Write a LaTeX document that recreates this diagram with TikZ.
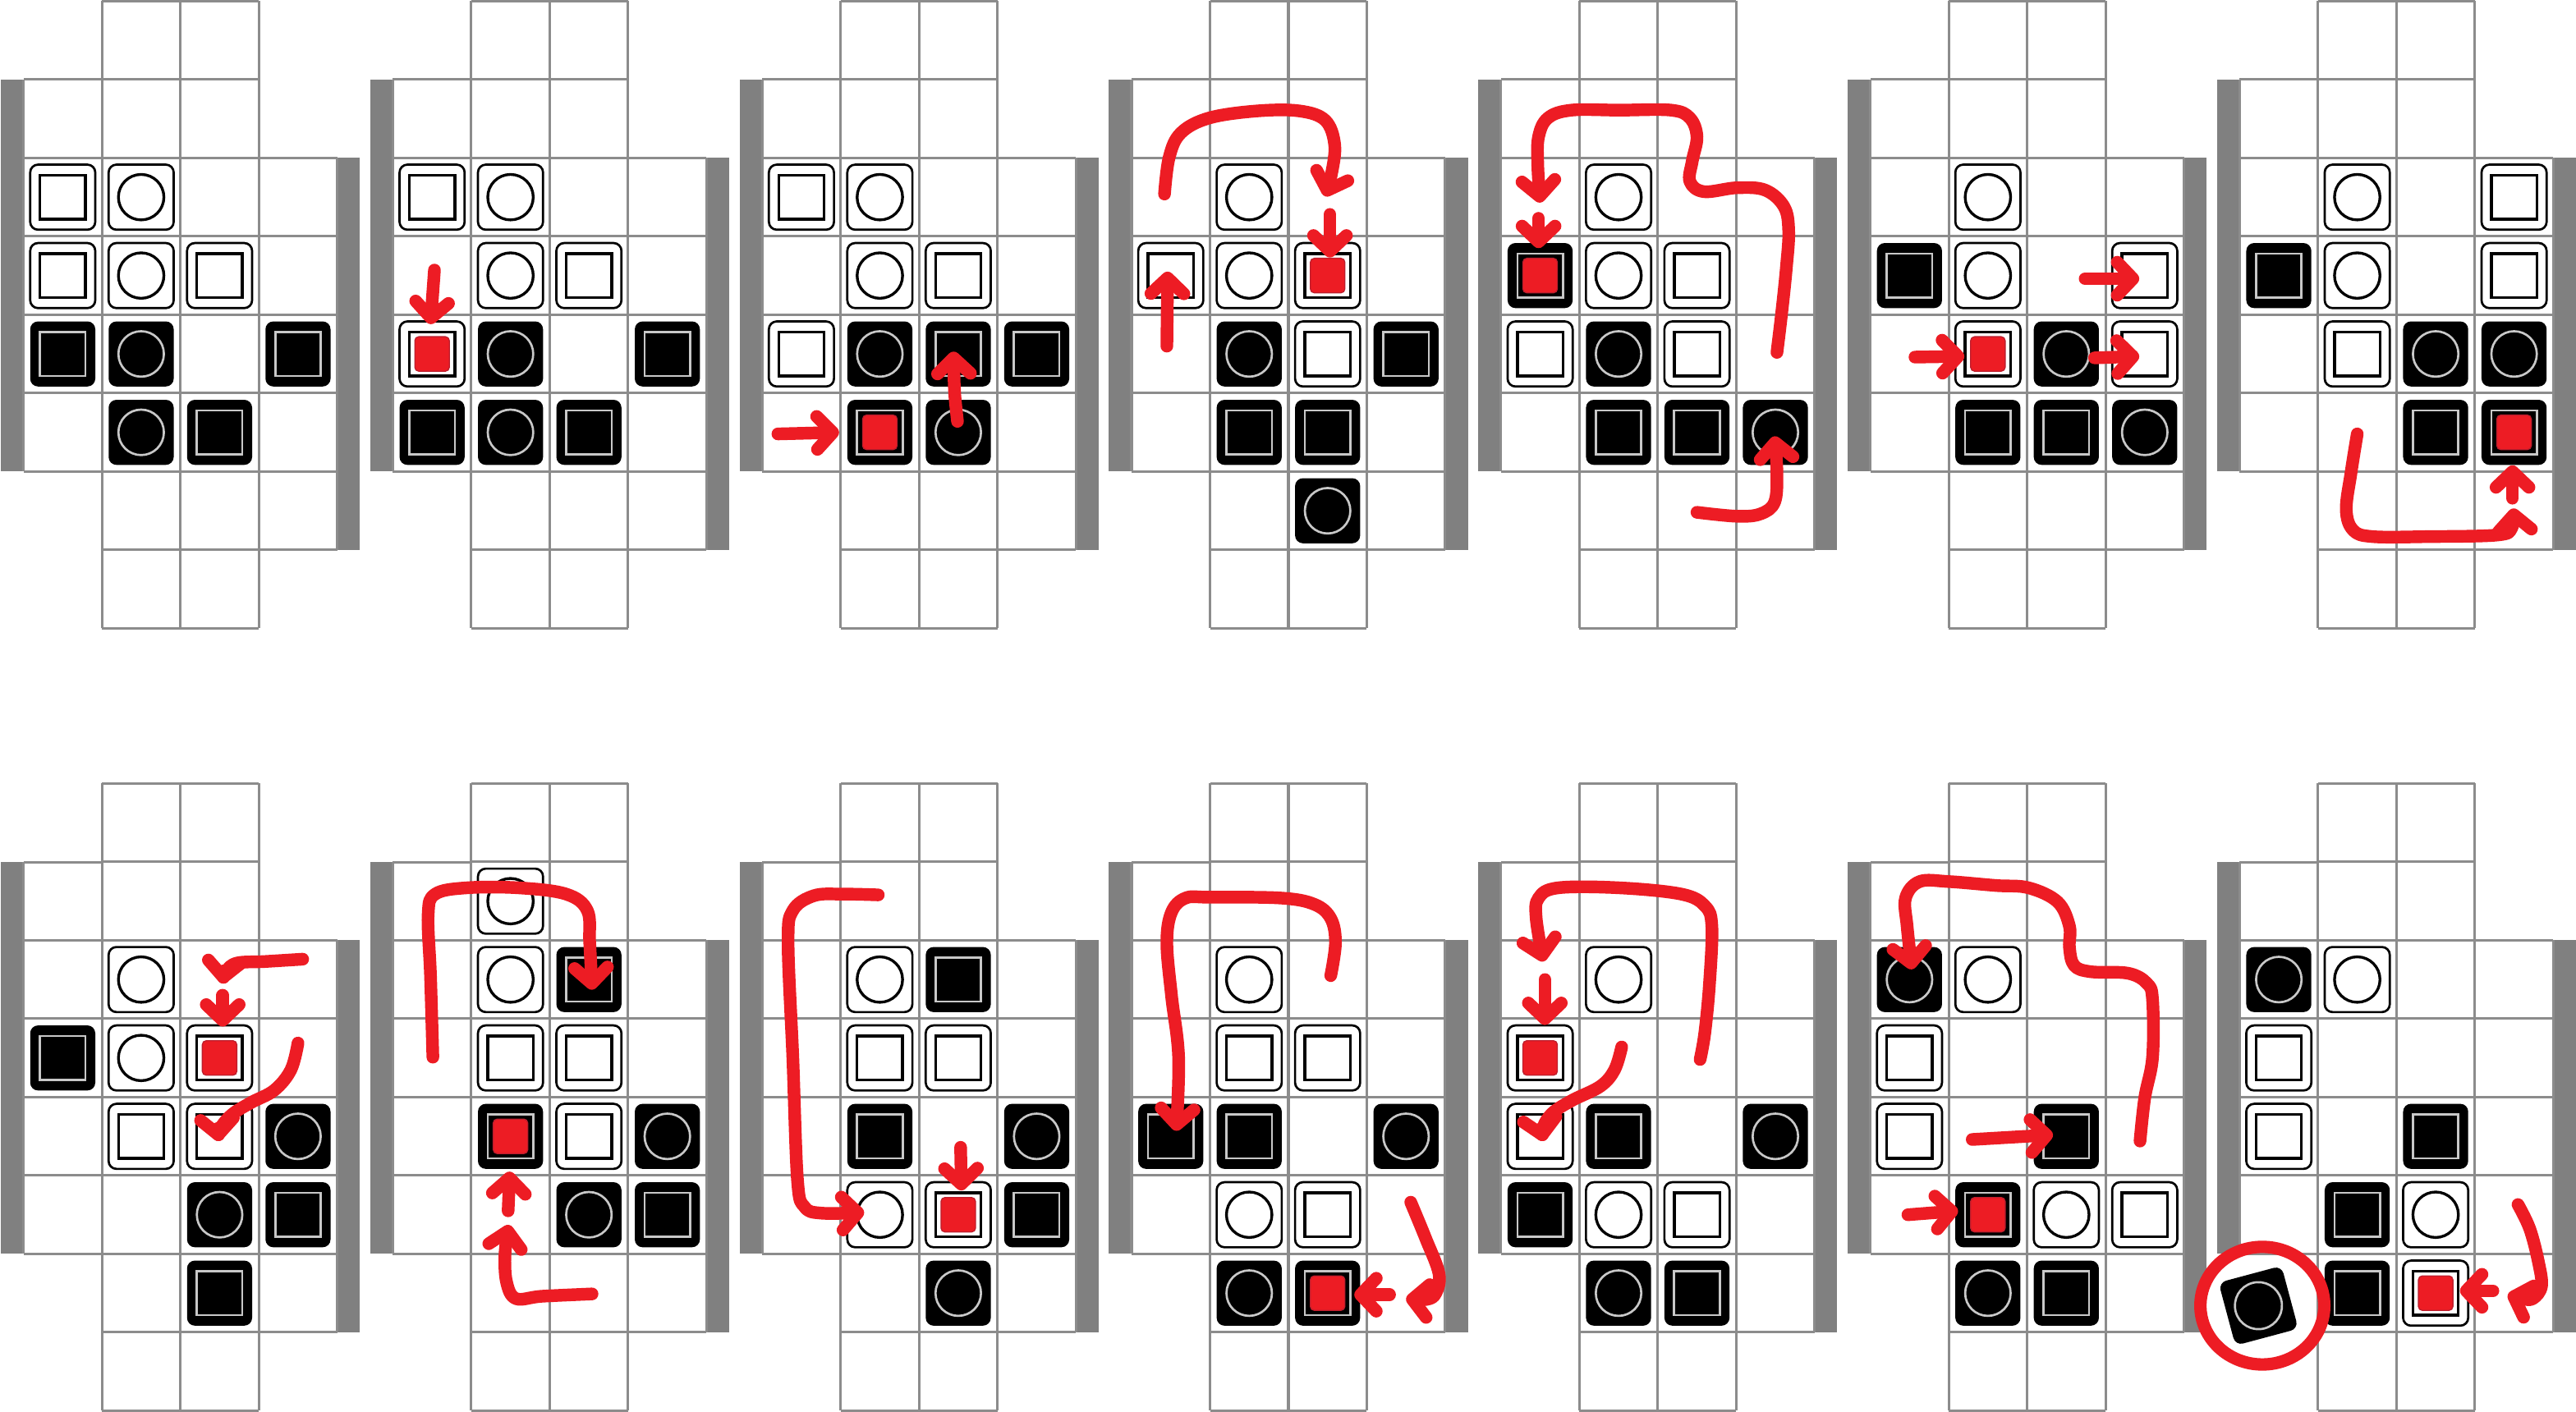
\documentclass[tikz,border=0pt]{standalone}
\usepackage{tikz}
\usetikzlibrary{arrows.meta}
\definecolor{bargray}{RGB}{128,128,128}
\definecolor{linegray}{RGB}{140,140,140}
\definecolor{markred}{RGB}{237,28,36}
\definecolor{darkred}{RGB}{190,30,45}
\definecolor{lightmark}{RGB}{200,200,200}
\tikzset{
  gridline/.style={draw=linegray, line width=0.9pt},
  sidebar/.style={fill=bargray},
  whitetile/.style={draw=black, fill=white, line width=0.8pt, rounded corners=0.1cm},
  blacktile/.style={fill=black, rounded corners=0.1cm},
  whitemark/.style={draw=black, line width=1pt},
  blackmark/.style={draw=lightmark, line width=0.8pt},
  redmark/.style={fill=markred, draw=darkred, line width=0.4pt, rounded corners=0.05cm},
  redarrow/.style={draw=markred, line width=4.6pt, line cap=round, line join=round, -{Straight Barb[round, length=2mm, width=4.2mm]}},
  redring/.style={draw=markred, line width=4.5pt}
}
\newcommand{\board}{%
  \fill[sidebar] (-0.29,-6) rectangle (0,-1);
  \fill[sidebar] (4,-7) rectangle (4.29,-2);
  \draw[gridline] (1,-8) grid (3,0);
  \draw[gridline] (0,-6) grid (1,-1);
  \draw[gridline] (3,-7) grid (4,-2);}
\newcommand{\wsq}[2]{%
  \draw[whitetile] (#1+0.085,-#2-0.085) rectangle ++(0.83,-0.83);
  \draw[whitemark] (#1+0.21,-#2-0.22) rectangle ++(0.58,-0.56);}
\newcommand{\wci}[2]{%
  \draw[whitetile] (#1+0.085,-#2-0.085) rectangle ++(0.83,-0.83);
  \draw[whitemark] (#1+0.5,-#2-0.5) circle (0.29);}
\newcommand{\bsq}[2]{%
  \fill[blacktile] (#1+0.085,-#2-0.085) rectangle ++(0.83,-0.83);
  \draw[blackmark] (#1+0.21,-#2-0.22) rectangle ++(0.58,-0.56);}
\newcommand{\bci}[2]{%
  \fill[blacktile] (#1+0.085,-#2-0.085) rectangle ++(0.83,-0.83);
  \draw[blackmark] (#1+0.5,-#2-0.5) circle (0.29);}
\newcommand{\rmark}[2]{%
  \draw[redmark] (#1+0.28,-#2-0.28) rectangle ++(0.44,-0.44);}

\begin{document}
\begin{tikzpicture}
  \fill[white] (0,0) rectangle (32.85,-18.01);
  \useasboundingbox (0,0) rectangle (32.85,-18.01);

  \begin{scope}[shift={(0.30,-0.015)}]
    \board
    \wsq{0}{2} \wci{1}{2}
    \wsq{0}{3} \wci{1}{3} \wsq{2}{3}
    \bsq{0}{4} \bci{1}{4} \bsq{3}{4}
    \bci{1}{5} \bsq{2}{5}
  \end{scope}

  \begin{scope}[shift={(5.01,-0.015)}]
    \board
    \wsq{0}{2} \wci{1}{2}
    \wci{1}{3} \wsq{2}{3}
    \wsq{0}{4} \rmark{0}{4} \bci{1}{4} \bsq{3}{4}
    \bsq{0}{5} \bci{1}{5} \bsq{2}{5}
    \draw[redarrow] (0.53,-3.43) -- (0.48,-4.12);
  \end{scope}

  \begin{scope}[shift={(9.72,-0.015)}]
    \board
    \wsq{0}{2} \wci{1}{2}
    \wci{1}{3} \wsq{2}{3}
    \wsq{0}{4} \bci{1}{4} \bsq{2}{4} \bsq{3}{4}
    \bsq{1}{5} \rmark{1}{5} \bci{2}{5}
    \draw[redarrow] (0.2,-5.52) -- (0.98,-5.5);
    \draw[redarrow] (2.49,-5.36) .. controls (2.45,-5.0) .. (2.44,-4.47);
  \end{scope}

  \begin{scope}[shift={(14.43,-0.015)}]
    \board
    \wci{1}{2}
    \wsq{0}{3} \wci{1}{3} \wsq{2}{3} \rmark{2}{3}
    \bci{1}{4} \wsq{2}{4} \bsq{3}{4}
    \bsq{1}{5} \bsq{2}{5}
    \bci{2}{6}
    \draw[redarrow] plot[smooth, tension=0.6] coordinates {(0.42,-2.46) (0.48,-1.99) (0.63,-1.68) (0.99,-1.49) (1.6,-1.4) (2.14,-1.4) (2.47,-1.52) (2.59,-1.83) (2.55,-2.2) (2.47,-2.49)};
    \draw[redarrow] (2.53,-2.72) -- (2.53,-3.27);
    \draw[redarrow] (0.45,-4.4) -- (0.46,-3.45);
  \end{scope}

  \begin{scope}[shift={(19.14,-0.015)}]
    \board
    \wci{1}{2}
    \bsq{0}{3} \rmark{0}{3} \wci{1}{3} \wsq{2}{3}
    \wsq{0}{4} \bci{1}{4} \wsq{2}{4}
    \bsq{1}{5} \bsq{2}{5} \bci{3}{5}
    \draw[redarrow] plot[smooth, tension=0.6] coordinates {(3.52,-4.48) (3.58,-3.98) (3.64,-3.4) (3.67,-2.93) (3.61,-2.62) (3.37,-2.41) (3.01,-2.38) (2.59,-2.43) (2.41,-2.3) (2.44,-2.04) (2.5,-1.73) (2.41,-1.49) (2.17,-1.39) (1.51,-1.39) (0.9,-1.39) (0.6,-1.49) (0.48,-1.73) (0.47,-2.09) (0.5,-2.57)};
    \draw[redarrow] (0.48,-2.77) -- (0.48,-3.15);
    \draw[redarrow] plot[smooth, tension=0.6] coordinates {(2.5,-6.52) (3.01,-6.57) (3.31,-6.54) (3.49,-6.39) (3.52,-6.02) (3.49,-5.55)};
  \end{scope}

  \begin{scope}[shift={(23.85,-0.015)}]
    \board
    \wci{1}{2}
    \bsq{0}{3} \wci{1}{3} \wsq{3}{3}
    \wsq{1}{4} \rmark{1}{4} \bci{2}{4} \wsq{3}{4}
    \bsq{1}{5} \bsq{2}{5} \bci{3}{5}
    \draw[redarrow] (2.74,-3.54) -- (3.43,-3.54);
    \draw[redarrow] (0.57,-4.54) -- (1.2,-4.53);
    \draw[redarrow] (2.86,-4.55) -- (3.43,-4.53);
  \end{scope}

  \begin{scope}[shift={(28.56,-0.015)}]
    \board
    \wci{1}{2} \wsq{3}{2}
    \bsq{0}{3} \wci{1}{3} \wsq{3}{3}
    \wsq{1}{4} \bci{2}{4} \bci{3}{4}
    \bsq{2}{5} \bsq{3}{5} \rmark{3}{5}
    \draw[redarrow] plot[smooth, tension=0.6] coordinates {(1.5,-5.52) (1.42,-6.02) (1.36,-6.49) (1.45,-6.75) (1.7,-6.83) (2.4,-6.83) (3.28,-6.81) (3.47,-6.72) (3.49,-6.47)};
    \draw[redarrow] (3.48,-6.34) -- (3.48,-5.92);
  \end{scope}

  \begin{scope}[shift={(0.30,-9.995)}]
    \board
    \wci{1}{2}
    \bsq{0}{3} \wci{1}{3} \wsq{2}{3} \rmark{2}{3}
    \wsq{1}{4} \wsq{2}{4} \bci{3}{4}
    \bci{2}{5} \bsq{3}{5}
    \bsq{2}{6}
    \draw[redarrow] plot[smooth, tension=0.6] coordinates {(3.56,-2.24) (3.08,-2.27) (2.72,-2.29) (2.58,-2.4) (2.54,-2.55)};
    \draw[redarrow] (2.54,-2.7) -- (2.54,-3.1);
    \draw[redarrow] plot[smooth, tension=0.6] coordinates {(3.5,-3.31) (3.41,-3.65) (3.2,-3.91) (2.9,-4.07) (2.66,-4.22) (2.51,-4.4) (2.49,-4.56)};
  \end{scope}

  \begin{scope}[shift={(5.01,-9.995)}]
    \board
    \wci{1}{1}
    \wci{1}{2} \bsq{2}{2}
    \wsq{1}{3} \wsq{2}{3}
    \bsq{1}{4} \rmark{1}{4} \wsq{2}{4} \bci{3}{4}
    \bci{2}{5} \bsq{3}{5}
    \draw[redarrow] plot[smooth, tension=0.6] coordinates {(0.51,-3.49) (0.48,-2.45) (0.45,-1.67) (0.54,-1.41) (0.94,-1.33) (1.6,-1.33) (2.21,-1.41) (2.48,-1.62) (2.51,-2.03) (2.54,-2.63)};
    \draw[redarrow] plot[smooth, tension=0.6] coordinates {(2.54,-6.51) (1.9,-6.54) (1.57,-6.57) (1.45,-6.36) (1.43,-6.0) (1.48,-5.63)};
    \draw[redarrow] (1.47,-5.45) -- (1.49,-4.95);
  \end{scope}

  \begin{scope}[shift={(9.72,-9.995)}]
    \board
    \wci{1}{2} \bsq{2}{2}
    \wsq{1}{3} \wsq{2}{3}
    \bsq{1}{4} \bci{3}{4}
    \wci{1}{5} \wsq{2}{5} \rmark{2}{5} \bsq{3}{5}
    \bci{2}{6}
    \draw[redarrow] plot[smooth, tension=0.6] coordinates {(1.48,-1.42) (1.03,-1.41) (0.66,-1.43) (0.39,-1.62) (0.33,-2.03) (0.39,-3.49) (0.45,-5.06) (0.54,-5.4) (0.76,-5.48) (1.3,-5.47)};
    \draw[redarrow] (2.53,-4.64) -- (2.54,-5.19);
  \end{scope}

  \begin{scope}[shift={(14.43,-9.995)}]
    \board
    \wci{1}{2}
    \wsq{1}{3} \wsq{2}{3}
    \bsq{0}{4} \bsq{1}{4} \bci{3}{4}
    \wci{1}{5} \wsq{2}{5}
    \bci{1}{6} \bsq{2}{6} \rmark{2}{6}
    \draw[redarrow] plot[smooth, tension=0.6] coordinates {(2.54,-2.45) (2.6,-2.03) (2.54,-1.72) (2.33,-1.54) (1.9,-1.46) (1.0,-1.45) (0.69,-1.46) (0.51,-1.64) (0.45,-2.03) (0.51,-2.71) (0.6,-3.49) (0.57,-4.43)};
    \draw[redarrow] plot[smooth, tension=0.6] coordinates {(3.56,-5.34) (3.75,-5.8) (3.92,-6.25) (3.88,-6.5) (3.76,-6.58) (3.5,-6.57)};
    \draw[redarrow] (3.29,-6.52) -- (2.84,-6.52);
  \end{scope}

  \begin{scope}[shift={(19.14,-9.995)}]
    \board
    \wci{1}{2}
    \wsq{0}{3} \rmark{0}{3}
    \wsq{0}{4} \bsq{1}{4} \bci{3}{4}
    \bsq{0}{5} \wci{1}{5} \wsq{2}{5}
    \bci{1}{6} \bsq{2}{6}
    \draw[redarrow] plot[smooth, tension=0.6] coordinates {(2.54,-3.52) (2.6,-3.18) (2.66,-2.55) (2.69,-1.82) (2.6,-1.56) (2.3,-1.41) (1.51,-1.33) (0.73,-1.33) (0.48,-1.46) (0.45,-1.72) (0.54,-2.27)};
    \draw[redarrow] (0.56,-2.5) -- (0.56,-3.08);
    \draw[redarrow] plot[smooth, tension=0.6] coordinates {(1.54,-3.36) (1.45,-3.65) (1.27,-3.86) (0.91,-4.04) (0.66,-4.2) (0.54,-4.38) (0.54,-4.56)};
  \end{scope}

  \begin{scope}[shift={(23.85,-9.995)}]
    \board
    \bci{0}{2} \wci{1}{2}
    \wsq{0}{3}
    \wsq{0}{4} \bsq{2}{4}
    \bsq{1}{5} \rmark{1}{5} \wci{2}{5} \wsq{3}{5}
    \bci{1}{6} \bsq{2}{6}
    \draw[redarrow] plot[smooth, tension=0.6] coordinates {(3.44,-4.56) (3.5,-4.01) (3.6,-3.49) (3.6,-2.76) (3.53,-2.55) (3.29,-2.42) (2.81,-2.4) (2.6,-2.32) (2.54,-2.09) (2.54,-1.82) (2.39,-1.51) (2.02,-1.33) (1.6,-1.3) (1.0,-1.25) (0.63,-1.25) (0.45,-1.46) (0.47,-1.82) (0.53,-2.37)};
    \draw[redarrow] (1.3,-4.54) -- (2.33,-4.48);
    \draw[redarrow] (0.48,-5.5) -- (1.12,-5.45);
  \end{scope}

  \begin{scope}[shift={(28.56,-9.995)}]
    \board
    \bci{0}{2} \wci{1}{2}
    \wsq{0}{3}
    \wsq{0}{4} \bsq{2}{4}
    \bsq{1}{5} \wci{2}{5}
    \bsq{1}{6} \wsq{2}{6} \rmark{2}{6}
    \begin{scope}[shift={(0.24,-6.66)}, rotate=15]
      \fill[blacktile] (-0.415,-0.415) rectangle (0.415,0.415);
      \draw[blackmark] (0,0) circle (0.3);
    \end{scope}
    \draw[redring] (0.29,-6.66) ellipse (0.79 and 0.75);
    \draw[redarrow] plot[smooth, tension=0.6] coordinates {(3.55,-5.37) (3.7,-5.68) (3.81,-6.1) (3.85,-6.41) (3.74,-6.57) (3.6,-6.57) (3.42,-6.52)};
    \draw[redarrow] (3.23,-6.47) -- (2.81,-6.47);
  \end{scope}
\end{tikzpicture}
\end{document}
